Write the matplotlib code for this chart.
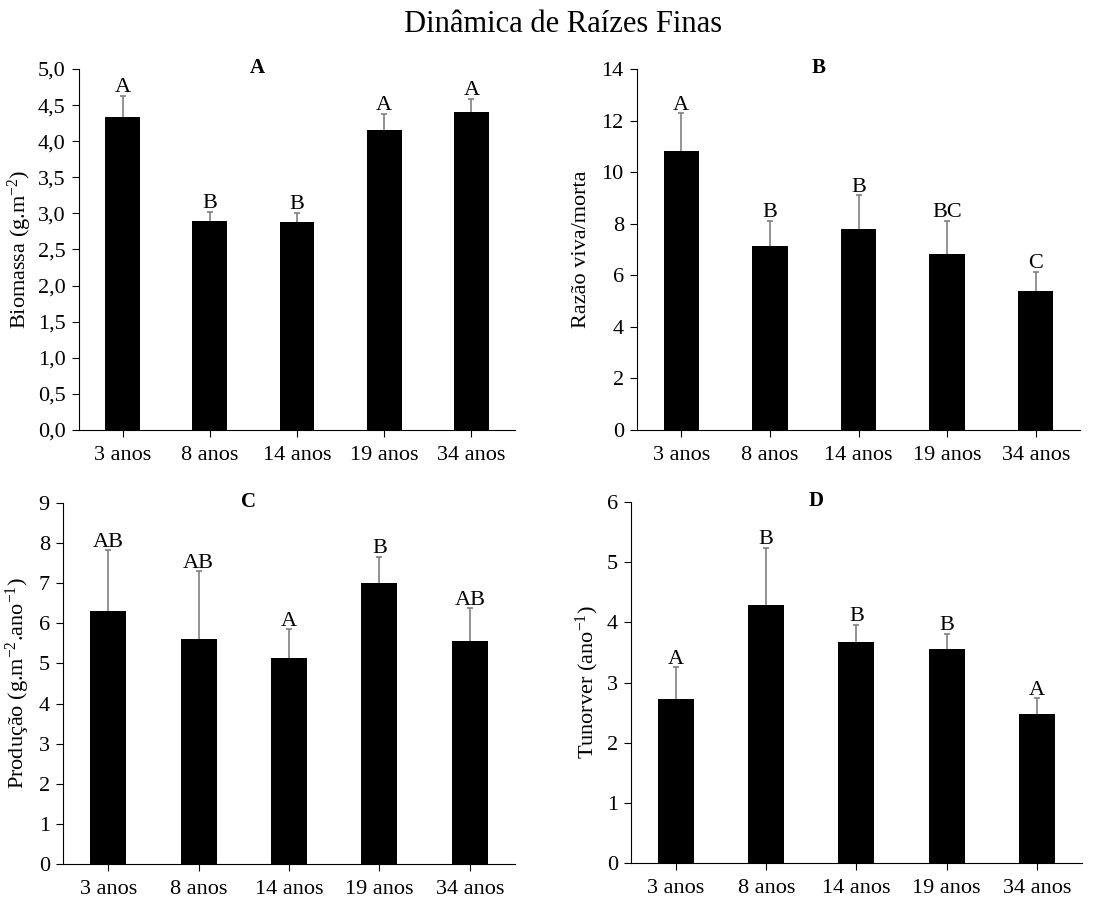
import matplotlib
matplotlib.use("Agg")
import matplotlib.pyplot as plt
import numpy as np

plt.rcParams['font.family'] = ['Liberation Serif', 'DejaVu Serif']
plt.rcParams['mathtext.default'] = 'regular'

# %%
# data
idades = ["3 anos", "8 anos", "14 anos", "19 anos", "34 anos"]

biomassa = [4.34, 2.89, 2.88, 4.15, 4.41]
biomassa_err = [0.29, 0.13, 0.13, 0.23, 0.18]
biomassa_let = ["A", "B", "B", "A", "A"]

razao = [10.81, 7.12, 7.78, 6.81, 5.39]
razao_err = [1.47, 1.00, 1.33, 1.31, 0.75]
razao_let = ["A", "B", "B", "BC", "C"]

producao = [6.30, 5.61, 5.13, 7.00, 5.56]
producao_err = [1.52, 1.69, 0.72, 0.66, 0.82]
producao_let = ["AB", "AB", "A", "B", "AB"]

turnover = [2.73, 4.29, 3.68, 3.55, 2.48]
turnover_err = [0.52, 0.95, 0.28, 0.26, 0.26]
turnover_let = ["A", "B", "B", "B", "A"]

# %%
fig = plt.figure(figsize=(11.14, 9.01), dpi=100)
fig.text(563 / 1114, 1 - 32 / 901, "Dinâmica de Raízes Finas", ha='center', va='baseline',
         fontsize=22)

paineis = [
    # rect, values, errors, letters, panel, ylabel, ymax, yticks, comma labels, ylabel x (px)
    ([0.0709, 0.5228, 0.3914, 0.4006], biomassa, biomassa_err, biomassa_let, "A",
     "Biomassa (g.m$^{-2}$)", 5.0, np.arange(0, 5.01, 0.5), True, 20),
    ([0.5718, 0.5228, 0.3977, 0.4006], razao, razao_err, razao_let, "B",
     "Razão viva/morta", 14, np.arange(0, 15, 2), False, 582),
    ([0.0566, 0.0411, 0.4057, 0.4006], producao, producao_err, producao_let, "C",
     "Produção (g.m$^{-2}$.ano$^{-1}$)", 9, np.arange(0, 10, 1), False, 18),
    ([0.5664, 0.0422, 0.4048, 0.4006], turnover, turnover_err, turnover_let, "D",
     "Tunorver (ano$^{-1}$)", 6, np.arange(0, 7, 1), False, 587),
]

for rect, vals, errs, lets, painel, ylab, ymax, yt, virgula, ylab_x in paineis:
    ax = fig.add_axes(rect)
    x = np.arange(len(idades))
    ax.bar(x, vals, width=0.4, color='black', zorder=3)
    eb = ax.errorbar(x, vals, yerr=[np.zeros(len(errs)), errs], fmt='none',
                     ecolor='#808080', elinewidth=1.2, capsize=2.5, capthick=1.2, zorder=2)
    # only the upper cap is shown
    for cap in eb[1]:
        if np.allclose(cap.get_ydata(), vals):
            cap.set_visible(False)
    for xi, v, e, l in zip(x, vals, errs, lets):
        ax.annotate(l, (xi, v + e), xytext=(0, 2.5), textcoords='offset points',
                    ha='center', va='baseline', fontsize=16)
    ax.set_xlim(-0.5, 4.5)
    ax.set_ylim(0, ymax)
    ax.set_yticks(yt)
    if virgula:
        ax.set_yticklabels([f"{t:.1f}".replace('.', ',') for t in yt])
    else:
        ax.set_yticklabels([f"{int(t)}" for t in yt])
    ax.set_xticks(x)
    ax.set_xticklabels(idades)
    ax.spines['top'].set_visible(False)
    ax.spines['right'].set_visible(False)
    ax.tick_params(axis='y', direction='out', length=5, pad=4.5, labelsize=16)
    ax.tick_params(axis='x', direction='out', length=5, pad=6.5, labelsize=16)
    ax.set_ylabel(ylab, fontsize=16, va='center')
    ax.yaxis.set_label_coords((ylab_x / 1114 - rect[0]) / rect[2], 0.5)
    ax.annotate(painel, (0.41, 1.0), xycoords='axes fraction', xytext=(0, -3),
                textcoords='offset points', ha='center', va='baseline',
                fontsize=15, fontweight='bold')

fig.savefig("out.png", dpi=100)
